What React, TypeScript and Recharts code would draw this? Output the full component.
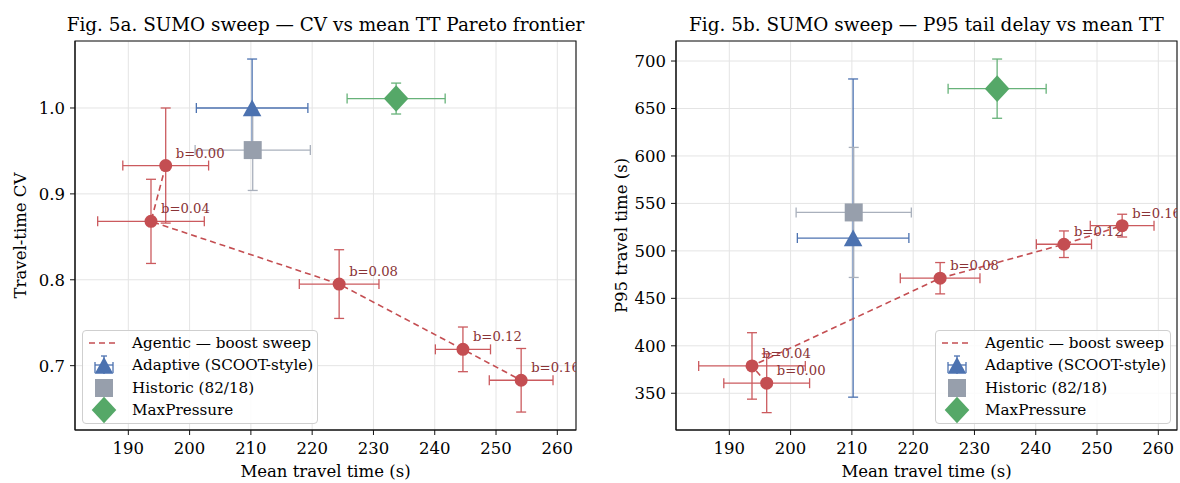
import {
  CartesianGrid,
  ErrorBar,
  Legend,
  ReferenceArea,
  Scatter,
  ScatterChart,
  XAxis,
  YAxis,
} from 'recharts'

const FONT = '"DejaVu Serif", serif'

// agentic boost sweep
const boostLabels = ['b=0.00', 'b=0.04', 'b=0.08', 'b=0.12', 'b=0.16']
const agenticMeanTT = [196.1, 193.7, 224.4, 244.6, 254.1]
const agenticMeanTTErr = [7.0, 8.7, 6.5, 4.5, 5.2]
const agenticCV = [0.933, 0.868, 0.795, 0.719, 0.683]
const agenticCVErr = [0.067, 0.049, 0.04, 0.026, 0.037]
const agenticP95 = [360.6, 378.8, 471.2, 507.0, 526.6]
const agenticP95Err = [31, 35, 16.5, 14, 12]

// baselines
const baselineNames = ['Adaptive (SCOOT-style)', 'Historic (82/18)', 'MaxPressure']
const baselineMeanTT = [210.2, 210.3, 233.7]
const baselineMeanTTErr = [9.1, 9.4, 8.0]
const baselineCV = [1.0, 0.951, 1.011]
const baselineCVErr = [0.057, 0.047, 0.018]
const baselineP95 = [513.5, 540.5, 670.9]
const baselineP95Err = [167.6, 68.5, 31.2]

const xTicks = [190, 200, 210, 220, 230, 240, 250, 260]
const cvTicks = [0.7, 0.8, 0.9, 1.0]
const p95Ticks = [350, 400, 450, 500, 550, 600, 650, 700]

const X_DOMAIN: [number, number] = [181.3, 263.05]

const RED = '#C44E52'
const RED_ERR = '#cb5a5e'
const BLUE = '#4C72B0'
const GREY = '#979fac'
const GREY_ERR = '#a9b0bc'
const GREEN = '#55A868'
const GREEN_ERR = '#67b279'
const baselineColors = [BLUE, GREY, GREEN]
const baselineErrColors = [BLUE, GREY_ERR, GREEN_ERR]

function markerPath(kind: number, cx: number, cy: number) {
  if (kind === 0) {
    return `M${cx},${cy - 8.5} L${cx + 9.3},${cy + 8.3} L${cx - 9.3},${cy + 8.3} Z`
  }
  if (kind === 1) {
    return `M${cx - 9},${cy - 9} H${cx + 9} V${cy + 9} H${cx - 9} Z`
  }
  return `M${cx},${cy - 13.3} L${cx + 12.3},${cy} L${cx},${cy + 13.3} L${cx - 12.3},${cy} Z`
}

const agenticDot = (p: any) => (
  <g>
    <circle cx={p.cx} cy={p.cy} r={6.5} fill={RED} />
    <text
      x={p.cx + 10}
      y={p.cy - 8}
      fill="#8a3336"
      fontSize={13.2}
      fontFamily={FONT}
    >
      {p.payload.label}
    </text>
  </g>
)

const baselineShape = (i: number) => (p: any) => (
  <path d={markerPath(i, p.cx, p.cy)} fill={baselineColors[i]} />
)

function LegendIcon({ i }: { i: number }) {
  if (i === 0) {
    return <line x1={4} y1={11} x2={34} y2={11} stroke={RED} strokeWidth={1.6} strokeDasharray="6 4" />
  }
  const kind = i - 1
  if (kind === 0) {
    return (
      <g stroke={BLUE} strokeWidth={1.3} fill="none">
        <line x1={19} y1={2} x2={19} y2={20} />
        <line x1={16} y1={2} x2={22} y2={2} />
        <line x1={10} y1={11} x2={28} y2={11} />
        <line x1={10} y1={8} x2={10} y2={19} />
        <line x1={28} y1={8} x2={28} y2={19} />
        <path d={markerPath(0, 19, 11.5)} fill={BLUE} stroke="none" />
      </g>
    )
  }
  return <path d={markerPath(kind, 19, 11)} fill={baselineColors[kind]} />
}

const legendNames = ['Agentic — boost sweep', ...baselineNames]

function LegendBox() {
  return (
    <div
      style={{
        border: '1px solid #cfcfcf',
        borderRadius: 4,
        background: 'rgba(255,255,255,0.85)',
        padding: '1px 6px 2px 2px',
        fontFamily: FONT,
        fontSize: 15.2,
        color: '#000',
        boxSizing: 'border-box',
        width: 236,
      }}
    >
      {legendNames.map((name, i) => (
        <div key={name} style={{ display: 'flex', alignItems: 'center', height: 22.3 }}>
          <svg width={40} height={22} style={{ overflow: 'visible' }}>
            <LegendIcon i={i} />
          </svg>
          <span style={{ marginLeft: 7, whiteSpace: 'nowrap' }}>{name}</span>
        </div>
      ))}
    </div>
  )
}

type PanelProps = {
  left: number
  title: string
  yLabel: string
  yDomain: [number, number]
  yTicks: number[]
  yDigits: number
  agenticY: number[]
  agenticYErr: number[]
  baselineY: number[]
  baselineYErr: number[]
  marginLeft: number
  marginRight: number
  legendLeft: number
}

function Panel(props: PanelProps) {
  const agentic = boostLabels.map((label, i) => ({
    label,
    x: agenticMeanTT[i],
    y: props.agenticY[i],
    ex: agenticMeanTTErr[i],
    ey: props.agenticYErr[i],
  }))
  const baselines = baselineNames.map((name, i) => ({
    name,
    x: baselineMeanTT[i],
    y: props.baselineY[i],
    ex: baselineMeanTTErr[i],
    ey: props.baselineYErr[i],
  }))
  const plotLeft = props.marginLeft + 60
  const plotWidth = 590 - plotLeft - props.marginRight
  const tickStyle = { fill: '#000', fontSize: 16.5, fontFamily: FONT }
  const labelStyle = { fill: '#000', fontSize: 16.5, fontFamily: FONT, textAnchor: 'middle' as const }

  return (
    <div style={{ position: 'absolute', left: props.left, top: 0, width: 590, height: 483 }}>
      <div
        style={{
          position: 'absolute',
          left: plotLeft - 60,
          width: plotWidth + 120,
          top: 16,
          textAlign: 'center',
          fontFamily: FONT,
          fontSize: 18.4,
          lineHeight: 1,
          whiteSpace: 'nowrap',
          color: '#000',
        }}
      >
        {props.title}
      </div>
      <ScatterChart
        width={590}
        height={483}
        margin={{ top: 41, right: props.marginRight, bottom: 0, left: props.marginLeft }}
      >
        <CartesianGrid stroke="#e4e4e4" strokeWidth={1} />
        <XAxis
          type="number"
          dataKey="x"
          domain={X_DOMAIN}
          ticks={xTicks}
          allowDataOverflow
          height={53}
          tickSize={5}
          tickMargin={7}
          stroke="#111"
          tick={tickStyle}
          label={{ value: 'Mean travel time (s)', position: 'insideTop', offset: 35, style: labelStyle }}
        />
        <YAxis
          type="number"
          dataKey="y"
          domain={props.yDomain}
          ticks={props.yTicks}
          allowDataOverflow
          width={60}
          tickSize={5}
          tickMargin={5}
          stroke="#111"
          tick={tickStyle}
          tickFormatter={(v: number) => v.toFixed(props.yDigits)}
          label={{ value: props.yLabel, angle: -90, position: 'insideLeft', offset: 5, style: labelStyle }}
        />
        <ReferenceArea
          x1={X_DOMAIN[0]}
          x2={X_DOMAIN[1]}
          y1={props.yDomain[0]}
          y2={props.yDomain[1]}
          fill="none"
          stroke="#111"
          strokeWidth={1.1}
          ifOverflow="visible"
        />
        <Scatter
          name="Agentic — boost sweep"
          data={agentic}
          shape={agenticDot}
          line={{ stroke: RED, strokeWidth: 1.6, strokeDasharray: '6 4' }}
          lineType="joint"
          fill={RED}
          isAnimationActive={false}
        >
          <ErrorBar dataKey="ex" direction="x" width={5} stroke={RED_ERR} strokeWidth={1.3} />
          <ErrorBar dataKey="ey" direction="y" width={5} stroke={RED_ERR} strokeWidth={1.3} />
        </Scatter>
        {baselines.map((b, i) => (
          <Scatter
            key={b.name}
            name={b.name}
            data={[b]}
            shape={baselineShape(i)}
            fill={baselineColors[i]}
            isAnimationActive={false}
          >
            <ErrorBar dataKey="ex" direction="x" width={5} stroke={baselineErrColors[i]} strokeWidth={1.3} />
            <ErrorBar dataKey="ey" direction="y" width={5} stroke={baselineErrColors[i]} strokeWidth={1.3} />
          </Scatter>
        ))}
        <Legend
          layout="vertical"
          align="center"
          verticalAlign="middle"
          content={() => <LegendBox />}
          wrapperStyle={{ left: props.legendLeft, top: 330, width: 236, height: 'auto' }}
        />
      </ScatterChart>
    </div>
  )
}

export default function App() {
  return (
    <div style={{ position: 'absolute', left: 0, top: 0, width: 1180, height: 483, background: '#fff' }}>
      <Panel
        left={0}
        title="Fig. 5a. SUMO sweep — CV vs mean TT Pareto frontier"
        yLabel="Travel-time CV"
        yDomain={[0.6251, 1.078]}
        yTicks={cvTicks}
        yDigits={1}
        agenticY={agenticCV}
        agenticYErr={agenticCVErr}
        baselineY={baselineCV}
        baselineYErr={baselineCVErr}
        marginLeft={15}
        marginRight={14}
        legendLeft={82}
      />
      <Panel
        left={600}
        title="Fig. 5b. SUMO sweep — P95 tail delay vs mean TT"
        yLabel="P95 travel time (s)"
        yDomain={[311.3, 721.1]}
        yTicks={p95Ticks}
        yDigits={0}
        agenticY={agenticP95}
        agenticYErr={agenticP95Err}
        baselineY={baselineP95}
        baselineYErr={baselineP95Err}
        marginLeft={16}
        marginRight={13}
        legendLeft={335}
      />
    </div>
  )
}
